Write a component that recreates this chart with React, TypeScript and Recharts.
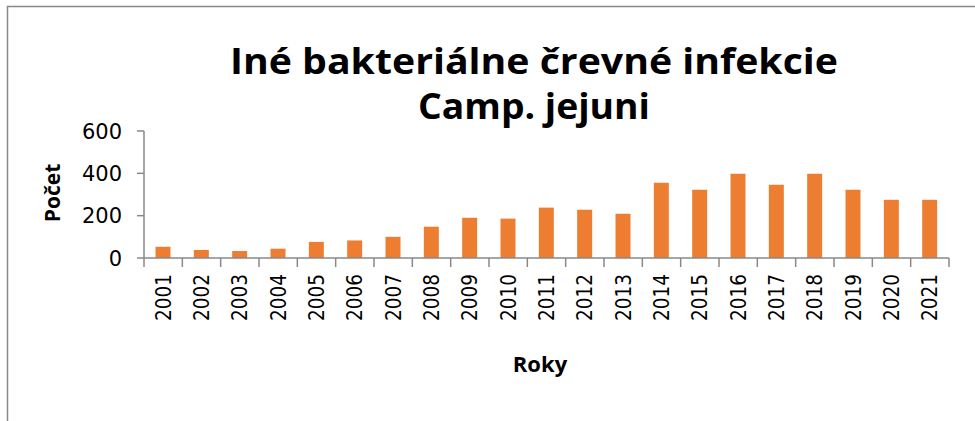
import React from 'react';
import { BarChart, Bar, XAxis, YAxis } from 'recharts';

const years = ['2001','2002','2003','2004','2005','2006','2007','2008','2009','2010','2011','2012','2013','2014','2015','2016','2017','2018','2019','2020','2021'];
const counts = [53, 38, 33, 44, 76, 83, 100, 148, 190, 186, 238, 228, 209, 356, 323, 398, 346, 398, 323, 275, 275];
const yTicks = [0, 200, 400, 600];
const title1 = 'Iné bakteriálne črevné infekcie';
const title2 = 'Camp. jejuni';
const yLabel = 'Počet';
const xLabel = 'Roky';

const data = years.map((y, i) => ({ year: y, count: counts[i] }));

const W = 975;
const H = 421;
const AXIS = '#898989';
const BAR = '#ED7D31';

const XTick = (props: any) => {
  const { x, y, payload, index, visibleTicksCount } = props;
  const half = payload && payload.offset ? payload.offset : 0;
  const axisY = y - 8;
  const ty = y + 8;
  const isLast = index === visibleTicksCount - 1;
  return (
    <g>
      {half > 0 && (
        <line x1={x - half} x2={x - half} y1={axisY} y2={axisY + 9} stroke={AXIS} strokeWidth={1.5} />
      )}
      {half > 0 && isLast && (
        <line x1={x + half} x2={x + half} y1={axisY} y2={axisY + 9} stroke={AXIS} strokeWidth={1.5} />
      )}
      <text
        x={x}
        y={ty}
        transform={`rotate(-90 ${x} ${ty})`}
        textAnchor="end"
        dy="0.36em"
        fontFamily="DejaVu Sans"
        fontSize={21}
        textLength={47}
        lengthAdjust="spacingAndGlyphs"
        fill="#000"
      >
        {payload.value}
      </text>
    </g>
  );
};

const YTick = (props: any) => {
  const { x, y, payload } = props;
  return (
    <text x={x - 13} y={y} dy="0.36em" textAnchor="end" fontFamily="DejaVu Sans" fontSize={21} fill="#000">
      {payload.value}
    </text>
  );
};

export default function App() {
  return (
    <div style={{ position: 'absolute', left: 0, top: 0, width: W, height: H, background: '#fff' }}>
      <svg width={W} height={H} style={{ position: 'absolute', left: 0, top: 0 }}>
        <rect x={7.5} y={6.5} width={W + 20} height={H + 20} fill="none" stroke={AXIS} strokeWidth={1.5} />
        <text x={534} y={74} textAnchor="middle" fontFamily="Open Sans" fontWeight="bold" fontSize={35} textLength={608} lengthAdjust="spacingAndGlyphs" fill="#000">
          {title1}
        </text>
        <text x={534} y={119} textAnchor="middle" fontFamily="Open Sans" fontWeight="bold" fontSize={35} textLength={232} lengthAdjust="spacingAndGlyphs" fill="#000">
          {title2}
        </text>
        <text x={540} y={372} textAnchor="middle" fontFamily="Open Sans" fontWeight="bold" fontSize={22} fill="#000">
          {xLabel}
        </text>
        <text x={60} y={193} transform="rotate(-90 60 193)" textAnchor="middle" fontFamily="Open Sans" fontWeight="bold" fontSize={21} fill="#000">
          {yLabel}
        </text>
      </svg>
      <div style={{ position: 'absolute', left: 0, top: 0 }}>
        <BarChart
          width={W}
          height={H}
          data={data}
          margin={{ top: 131, right: 26, left: 84, bottom: 83 }}
          barCategoryGap="30%"
        >
          <XAxis
            dataKey="year"
            interval={0}
            tickLine={false}
            axisLine={{ stroke: AXIS, strokeWidth: 1.5 }}
            tick={<XTick />}
            height={80}
          />
          <YAxis
            domain={[0, 600]}
            ticks={yTicks}
            width={60}
            axisLine={{ stroke: AXIS, strokeWidth: 1.5 }}
            tickLine={{ stroke: AXIS, strokeWidth: 1.5 }}
            tickSize={7}
            tick={<YTick />}
          />
          <Bar dataKey="count" fill={BAR} isAnimationActive={false} />
        </BarChart>
      </div>
    </div>
  );
}
